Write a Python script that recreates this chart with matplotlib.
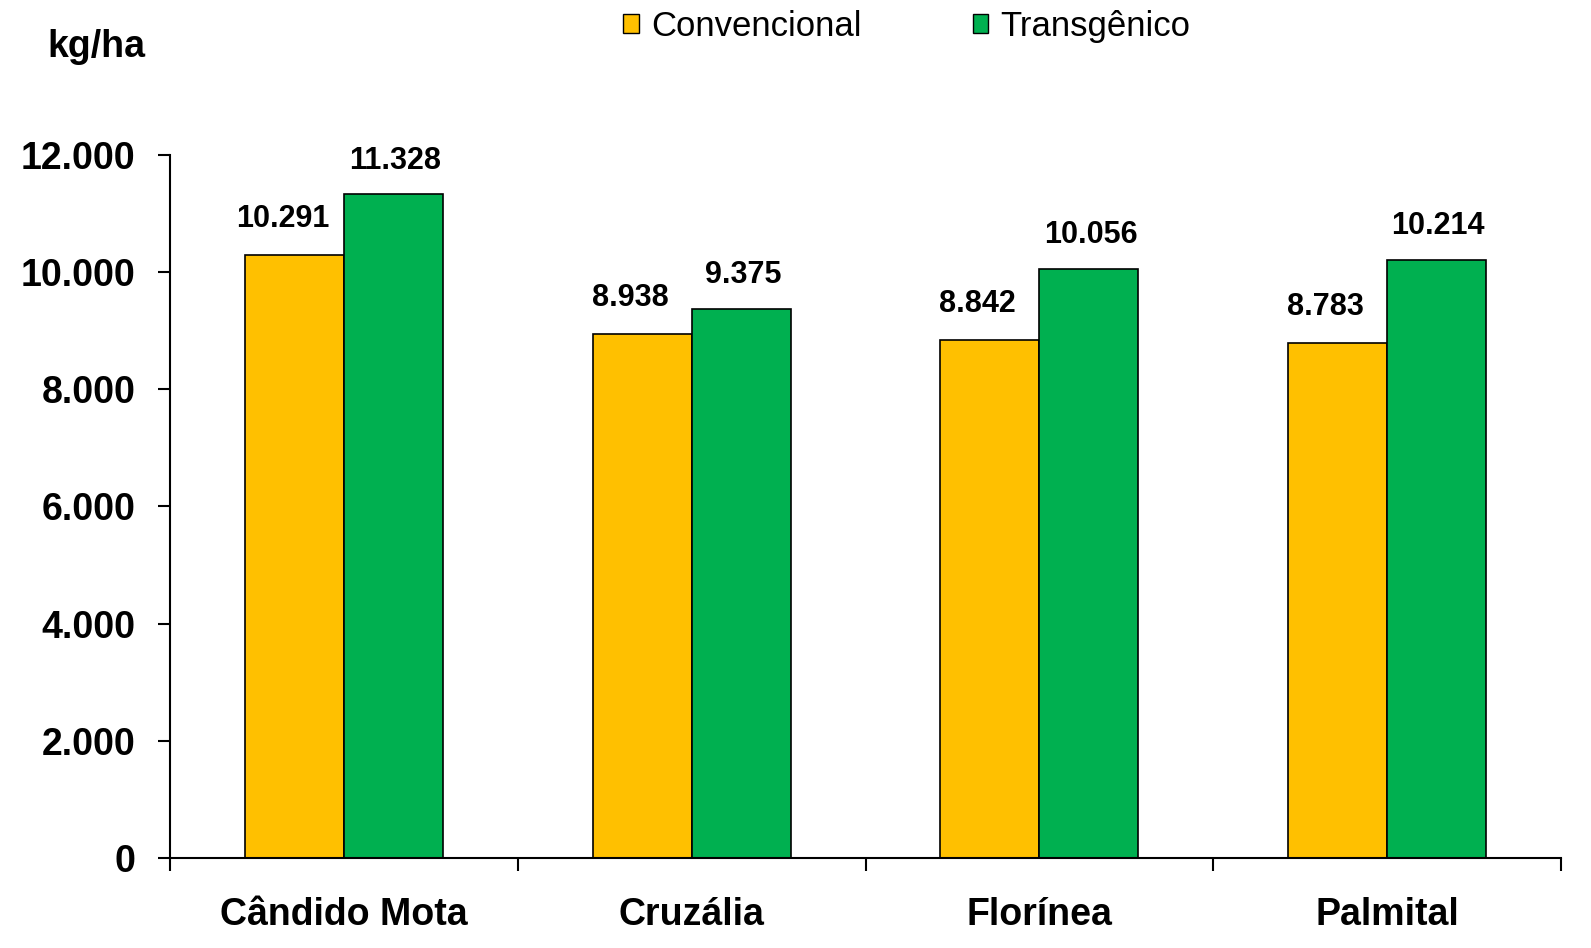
import numpy as np
import matplotlib
matplotlib.use('Agg')
import matplotlib.pyplot as plt
from matplotlib.patches import Patch

plt.rcParams['font.family'] = ['Liberation Sans', 'DejaVu Sans']

# dados
municipios = ['Cândido Mota', 'Cruzália', 'Florínea', 'Palmital']
convencional = [10291, 8938, 8842, 8783]
transgenico = [11328, 9375, 10056, 10214]
rotulos_conv = ['10.291', '8.938', '8.842', '8.783']
rotulos_trans = ['11.328', '9.375', '10.056', '10.214']
yticks = [0, 2000, 4000, 6000, 8000, 10000, 12000]
yticklabels = ['0', '2.000', '4.000', '6.000', '8.000', '10.000', '12.000']

cor_conv = '#FFC000'
cor_trans = '#00B050'

fig = plt.figure(figsize=(15.91, 9.48), dpi=100)
ax = fig.add_axes([0.107, 0.095, 0.874, 0.7415])

x = np.arange(len(municipios))
w = 0.285
ax.bar(x - w / 2, convencional, w, color=cor_conv, edgecolor='black', linewidth=1.2)
ax.bar(x + w / 2, transgenico, w, color=cor_trans, edgecolor='black', linewidth=1.2)

# rótulos de valor
for i in range(len(municipios)):
    ax.text(x[i] - w / 2 - 0.035, convencional[i] + 480, rotulos_conv[i],
            ha='center', va='baseline', fontsize=22, fontweight='bold')
    ax.text(x[i] + w / 2 + 0.005, transgenico[i] + 440, rotulos_trans[i],
            ha='center', va='baseline', fontsize=22, fontweight='bold')

ax.set_xlim(-0.5, len(municipios) - 0.5)
ax.set_ylim(0, 12000)
ax.set_yticks(yticks)
ax.set_yticklabels(yticklabels, fontsize=27, fontweight='bold')
ax.set_xticks(x)
ax.set_xticklabels(municipios, fontsize=27, fontweight='bold')
ax.tick_params(axis='x', length=0, pad=28)
ax.tick_params(axis='y', length=9, width=1.5, direction='out', pad=16)

# separadores das categorias no eixo x
ax.set_xticks(np.arange(-0.5, len(municipios)), minor=True)
ax.tick_params(axis='x', which='minor', length=9, width=1.5, direction='out')

for lado in ['top', 'right']:
    ax.spines[lado].set_visible(False)
ax.spines['left'].set_linewidth(1.5)
ax.spines['bottom'].set_linewidth(1.5)

fig.text(0.03, 0.95, 'kg/ha', fontsize=27, fontweight='bold', va='center')

handles = [Patch(facecolor=cor_conv, edgecolor='black', label='Convencional'),
           Patch(facecolor=cor_trans, edgecolor='black', label='Transgênico')]
fig.legend(handles=handles, loc='center', bbox_to_anchor=(0.57, 0.972), ncol=2,
           frameon=False, fontsize=25, handlelength=0.45, handleheight=0.45,
           handletextpad=0.35, columnspacing=3.2)

plt.savefig('out.png', dpi=100)
